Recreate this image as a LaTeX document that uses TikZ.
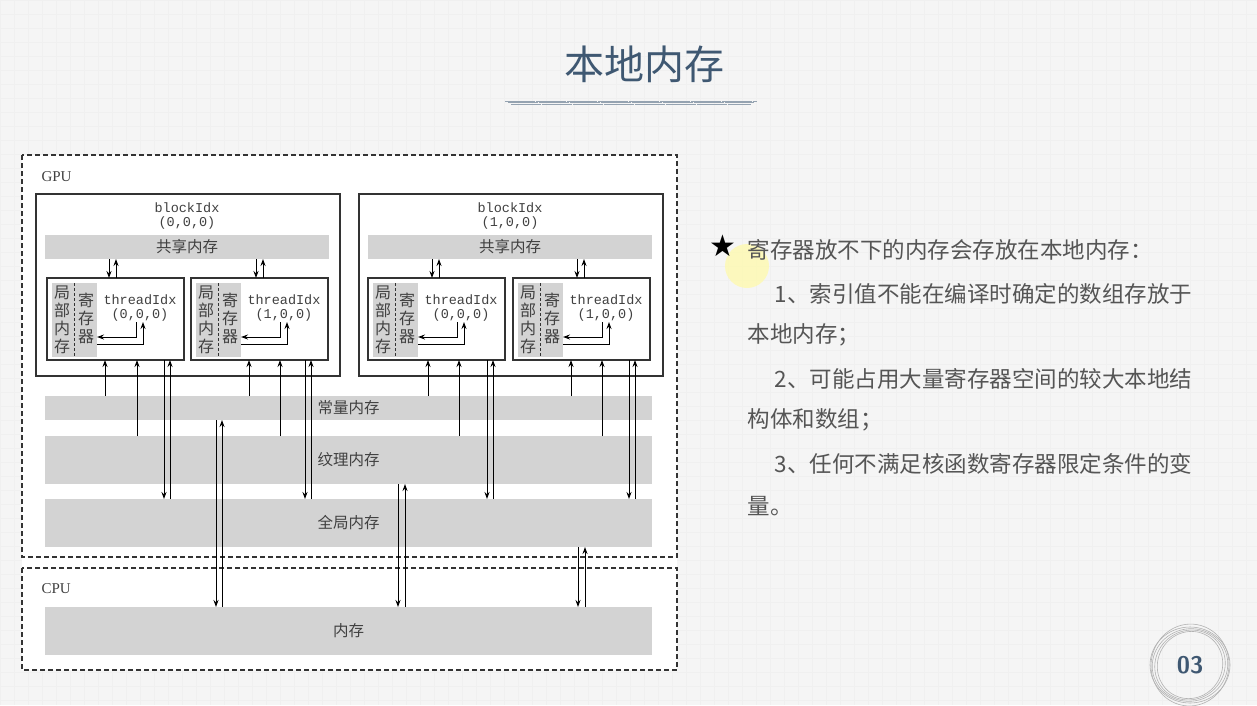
\documentclass[tikz,border=0pt]{standalone}
\usepackage{fontspec}
\setmainfont{Liberation Serif}
\setmonofont{Liberation Mono}
\newfontfamily\cjk{Noto Sans CJK SC}
\newfontfamily\djv{DejaVu Sans}
\usetikzlibrary{arrows.meta}
\definecolor{barg}{HTML}{D3D3D3}
\definecolor{titc}{HTML}{3F5872}
\definecolor{txtc}{HTML}{555555}
\begin{document}
\begin{tikzpicture}[x=1pt,y=-1pt,
  bar/.style={fill=barg,draw=none},
  dbox/.style={draw=black!80,dashed,dash pattern=on 5pt off 3pt,line width=1.1pt},
  sbox/.style={draw=black!80,line width=1.2pt},
  ar/.style={-{Stealth[length=7pt,width=5pt]},line width=1pt},
  zh/.style={font=\cjk\fontsize{15.5}{17}\selectfont,text=black!75},
  mono/.style={font=\ttfamily\fontsize{13.5}{14}\selectfont,text=black!75,align=center},
  rt/.style={anchor=west,font=\cjk\fontsize{22.5}{24}\selectfont,text=txtc}]
\useasboundingbox (0,0) rectangle (1257,705);
\fill[white!96!black] (0,0) rectangle (1257,705);
\foreach \i in {0,14,...,1257} \draw[black!6,line width=0.4pt] (\i,0)--(\i,705);
\foreach \j in {0,14,...,705} \draw[black!6,line width=0.4pt] (0,\j)--(1257,\j);
% title
\node[font=\cjk\fontsize{40}{44}\selectfont,text=titc] (title) at (644,64) {本地内存};
\foreach \k in {0,1,2} \draw[titc!55,line width=1pt,dash pattern=on 30pt off 1pt] (505+\k*3,101+\k*1.5)--(757-\k*3,101+\k*1.5);
% diagram background
\fill[white] (22,155) rectangle (677,670);
\draw[dbox] (22,155) rectangle (677,557);
\draw[dbox] (22,568) rectangle (677,670);
\node[font=\fontsize{15}{16}\selectfont,text=black!75,anchor=west] (gpu) at (38,177) {GPU};
\node[font=\fontsize{15}{16}\selectfont,text=black!75,anchor=west] (cpu) at (38,589) {CPU};
% bars
\node[bar,minimum width=607pt,minimum height=24pt,inner sep=0pt] (const) at (348.5,408) {};
\node[zh] at (const) {常量内存};
\node[bar,minimum width=607pt,minimum height=48pt,inner sep=0pt] (tex) at (348.5,460) {};
\node[zh] at (tex) {纹理内存};
\node[bar,minimum width=607pt,minimum height=48pt,inner sep=0pt] (glob) at (348.5,523) {};
\node[zh] at (glob) {全局内存};
\node[bar,minimum width=607pt,minimum height=48pt,inner sep=0pt] (mem) at (348.5,631) {};
\node[zh] at (mem) {内存};
% blocks
\foreach \bx/\lab in {36/0,359/1}{
  \draw[sbox] (\bx,194) rectangle (\bx+304,376);
  \node[mono] at (\bx+151,216) {blockIdx\\(\lab,0,0)};
  \fill[barg] (\bx+9,235) rectangle (\bx+293,259);
  \node[zh] at (\bx+151,247) {共享内存};
}
% threads
\foreach \tx/\lab in {47/0,191/1,368/0,513/1}{
  \draw[sbox] (\tx,278) rectangle (\tx+137,360);
  \fill[barg] (\tx+5,283) rectangle (\tx+50,357);
  \draw[black!80,dashed,dash pattern=on 3pt off 2pt,line width=0.9pt] (\tx+27,283)--(\tx+27,357);
  \node[zh,align=center,inner sep=0pt,font=\cjk\fontsize{16}{18}\selectfont] at (\tx+15,320) {局\\部\\内\\存};
  \node[zh,align=center,inner sep=0pt,font=\cjk\fontsize{16}{18}\selectfont] at (\tx+39,318) {寄\\存\\器};
  \node[mono] at (\tx+93,308) {threadIdx\\(\lab,0,0)};
  \draw[ar] (\tx+89,322)--(\tx+89,337)--(\tx+50,337);
  \draw[ar] (\tx+50,344)--(\tx+96,344)--(\tx+96,322);
}
% shared arrows
\foreach \x in {109,256,432,577}{
  \draw[ar] (\x,259)--(\x,278);
  \draw[ar] (\x+7,278)--(\x+7,259);
}
% thread to memory arrows
\foreach \t in {105,249,428,571}{
  \draw[ar] (\t,396)--(\t,360);
}
\foreach \t in {137,280,459,602}{
  \draw[ar] (\t,436)--(\t,360);
}
\foreach \t in {164,305,487,629}{
  \draw[ar] (\t,360)--(\t,499);
  \draw[ar] (\t+6,499)--(\t+6,360);
}
% GPU-CPU
\draw[ar] (216,420)--(216,607); \draw[ar] (222,607)--(222,420);
\draw[ar] (398,484)--(398,607); \draw[ar] (405,607)--(405,484);
\draw[ar] (578,547)--(578,607); \draw[ar] (585,607)--(585,547);
% right text
\fill[yellow!35,opacity=0.7] (747,266) circle (22);
\node[font=\djv\fontsize{30}{30}\selectfont] (star) at (723,246) {★};
\node[rt] at (744,250) {寄存器放不下的内存会存放在本地内存：};
\node[rt] at (771,294) {1、索引值不能在编译时确定的数组存放于};
\node[rt] at (744,335) {本地内存；};
\node[rt] at (771,379) {2、可能占用大量寄存器空间的较大本地结};
\node[rt] at (744,420) {构体和数组；};
\node[rt] at (771,464) {3、任何不满足核函数寄存器限定条件的变};
\node[rt] at (744,506) {量。};
% page number
\foreach \r/\a in {40/0,38/20,36/40,34/60,41/80}
  \draw[black!30,line width=0.6pt,rotate around={\a:(1190,665)}] (1190,665) ellipse (\r pt and \r*0.95 pt);
\node[font=\fontsize{24}{26}\selectfont\bfseries\sffamily,text=titc] (pg) at (1190,665) {03};
\end{tikzpicture}
\end{document}
